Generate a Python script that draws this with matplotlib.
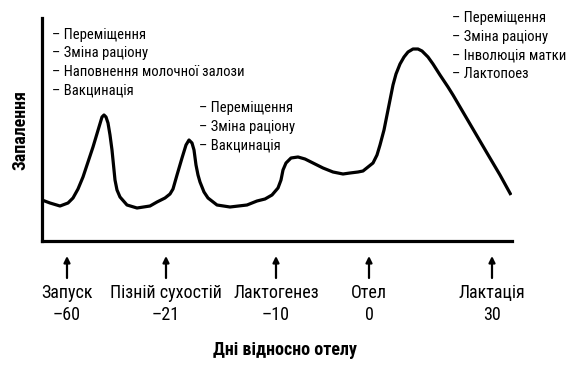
import numpy as np
import matplotlib
matplotlib.use('Agg')
import matplotlib.pyplot as plt
from matplotlib import font_manager

# шрифт: вузький, якщо є
names = {f.name for f in font_manager.fontManager.ttflist}
narrow = 'Roboto'
for cand in ['Liberation Sans Narrow', 'Roboto Condensed', 'Open Sans Condensed', 'Noto Sans Condensed']:
    if cand in names:
        narrow = cand
        break
plt.rcParams['font.family'] = [narrow, 'DejaVu Sans']

# крива запалення (схематичні одиниці)
curve_x = [0, 8, 18, 26, 31, 36, 41, 46, 51, 57, 60, 62, 64, 66, 68, 70, 73, 75, 78, 85,
           95, 108, 115, 123, 128, 131, 135, 140, 144, 147, 150, 152, 154, 156, 158, 162, 166,
           175, 188, 205, 215, 223, 230, 236, 239, 241, 244, 249, 256, 263, 271, 281, 291,
           301, 308, 316, 321, 326, 331, 335, 338, 342, 345, 348, 351, 354, 358, 362, 366, 371,
           376, 380, 386, 391, 398, 406, 411, 428, 445, 458, 469]
curve_y = [41, 38, 35, 38, 43, 52, 64, 79, 94, 114, 124, 126, 124, 118, 106, 91, 61, 51, 44, 36,
           33, 35, 39, 43, 47, 52, 66, 83, 96, 101, 98, 91, 76, 66, 59, 49, 43,
           36, 34, 36, 40, 42, 46, 53, 61, 71, 78, 83, 84, 82, 78, 73, 69,
           67, 68, 69, 70, 74, 78, 86, 96, 111, 126, 141, 156, 167, 177, 184, 189, 192,
           192, 190, 184, 177, 166, 154, 146, 117, 88, 66, 46]

# події під віссю
phase_x = [25, 124, 234, 327, 450]
phase_names = ['Запуск', 'Пізній сухостій', 'Лактогенез', 'Отел', 'Лактація']
phase_days = ['–60', '–21', '–10', '0', '30']

# підписи біля піків
notes1 = ['Переміщення', 'Зміна раціону', 'Наповнення молочної залози', 'Вакцинація']
notes2 = ['Переміщення', 'Зміна раціону', 'Вакцинація']
notes3 = ['Переміщення', 'Зміна раціону', 'Інволюція матки', 'Лактопоез']

condensed = narrow != 'Roboto'
fs_note = 10.5 if condensed else 9.5
fs_lab = 13 if condensed else 12

fig = plt.figure(figsize=(5.67, 3.67), dpi=100)
ax = fig.add_axes([42 / 567, 126 / 367, 470 / 567, 223 / 367])
ax.plot(curve_x, curve_y, color='black', lw=2.3, solid_capstyle='butt', solid_joinstyle='round')
ax.set_xlim(0, 470)
ax.set_ylim(0, 223)
ax.set_xticks([])
ax.set_yticks([])
for s in ['top', 'right']:
    ax.spines[s].set_visible(False)
for s in ['left', 'bottom']:
    ax.spines[s].set_linewidth(2.3)

def put_notes(x, y0, lines, step=18.5):
    for i, t in enumerate(lines):
        ax.text(x, y0 - i * step, '– ' + t, fontsize=fs_note, va='center', ha='left',
                clip_on=False)

put_notes(10, 206, notes1)
put_notes(157, 133, notes2)
put_notes(410, 223, notes3)

for x, nm, d in zip(phase_x, phase_names, phase_days):
    ax.annotate('', xy=(x, -15), xytext=(x, -37), annotation_clip=False,
                arrowprops=dict(arrowstyle='-|>', color='black', lw=1.6, mutation_scale=9,
                                shrinkA=0, shrinkB=0))
    ax.text(x, -52, nm, fontsize=fs_lab, ha='center', va='center', clip_on=False)
    ax.text(x, -74, d, fontsize=fs_lab, ha='center', va='center', clip_on=False)

ax.text(243, -109, 'Дні відносно отелу', fontsize=fs_lab, fontweight='bold',
        ha='center', va='center', clip_on=False)
ax.text(-22, 111, 'Запалення', fontsize=fs_lab, fontweight='bold', rotation=90,
        ha='center', va='center', clip_on=False)

fig.savefig('out.png', dpi=100)
